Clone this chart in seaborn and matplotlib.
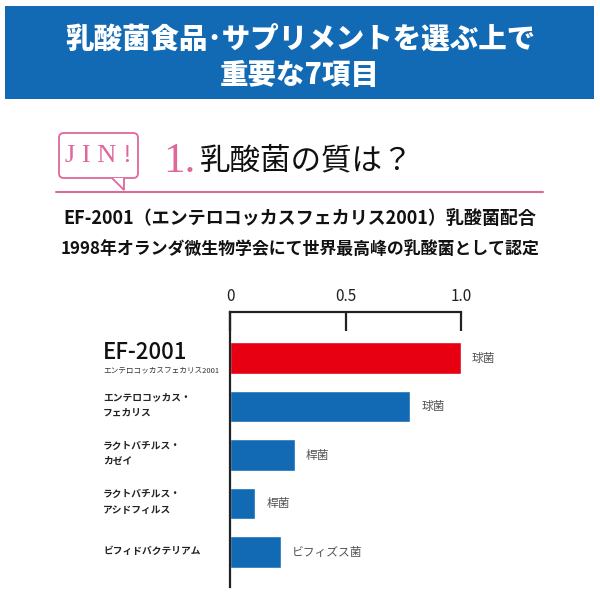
import matplotlib
matplotlib.use("Agg")
import matplotlib.pyplot as plt
import matplotlib.patches as mpatches
from matplotlib.transforms import blended_transform_factory
import seaborn as sns

# データ
names = ["EF-2001", "エンテロコッカス・\nフェカリス", "ラクトバチルス・\nカゼイ",
         "ラクトバチルス・\nアシドフィルス", "ビフィドバクテリアム"]
values = [1.0, 0.78, 0.28, 0.11, 0.22]
types = ["球菌", "球菌", "桿菌", "桿菌", "ビフィズス菌"]
colors = ["#e60012", "#136ab4", "#136ab4", "#136ab4", "#136ab4"]
xticks = [0, 0.5, 1.0]
xtick_labels = ["0", "0.5", "1.0"]

title_lines = ["乳酸菌食品･サプリメントを選ぶ上で", "重要な7項目"]
heading = "乳酸菌の質は？"
sub1 = "EF-2001（エンテロコッカスフェカリス2001）乳酸菌配合"
sub2 = "1998年オランダ微生物学会にて世界最高峰の乳酸菌として認定"
ef_sub = "エンテロコッカスフェカリス2001"

sns.set_style("white")
plt.rcParams["font.family"] = ["Noto Sans CJK JP", "DejaVu Sans"]

W = H = 600
fig = plt.figure(figsize=(6, 6), dpi=100)


def fx(px):
    return px / W


def fy(py):
    return 1 - py / H


# ヘッダー
fig.add_artist(mpatches.Rectangle((fx(5), fy(99)), fx(589), 93 / H,
                                  transform=fig.transFigure, color="#136ab4", lw=0))
fig.text(0.5, fy(39), title_lines[0], color="white", fontsize=20.5, weight="heavy",
         ha="center", va="center")
fig.text(0.5, fy(75), title_lines[1], color="white", fontsize=20.5, weight="heavy",
         ha="center", va="center")

# JIN! 吹き出し
pink = "#e0679c"
fig.add_artist(mpatches.FancyBboxPatch((fx(59), fy(178)), 79 / W, 45 / H,
                                       boxstyle="round,pad=0,rounding_size=0.008",
                                       transform=fig.transFigure, fc="white", ec=pink, lw=1.3))
fig.add_artist(mpatches.Polygon([(fx(112), fy(178)), (fx(124), fy(190)), (fx(124), fy(178))],
                                transform=fig.transFigure, fc="white", ec=pink, lw=1.3,
                                closed=False))
fig.text(fx(98), fy(156), "J I N !", color=pink, fontsize=19, family="Liberation Serif",
         ha="center", va="center")
fig.text(fx(163), fy(162), "1.", color=pink, fontsize=31, family="Liberation Serif",
         ha="left", va="center")
fig.text(fx(200), fy(161), heading, color="#111111", fontsize=22,
         ha="left", va="center")
fig.add_artist(plt.Line2D([fx(56), fx(543)], [fy(192), fy(192)], color=pink, lw=1.5,
                          transform=fig.transFigure))

fig.text(0.5, fy(218), sub1, color="#111111", fontsize=13, weight="bold",
         ha="center", va="center")
fig.text(0.5, fy(249), sub2, color="#111111", fontsize=12.2, weight="bold",
         ha="center", va="center")

# グラフ
ax = fig.add_axes([fx(230), fy(587), fx(231), (587 - 312) / H])
sns.barplot(x=values, y=names, hue=names, palette=colors, orient="h", width=0.65,
            saturation=1, legend=False, ax=ax)
ax.set_xlim(0, 1.0)
ax.set_ylim(4.72, -0.95)
for s in ["right", "bottom"]:
    ax.spines[s].set_visible(False)
for s in ["top", "left"]:
    ax.spines[s].set_color("#222222")
    ax.spines[s].set_linewidth(1.6)
ax.xaxis.tick_top()
ax.set_xticks(xticks)
ax.set_xticklabels(xtick_labels)
ax.tick_params(axis="x", direction="in", length=14, width=1.6, pad=5,
               labelsize=11, colors="#222222")
ax.set_yticks([])
ax.set_xlabel("")
ax.set_ylabel("")
for p in ax.patches:
    p.set_clip_on(False)

trans = blended_transform_factory(fig.transFigure, ax.transData)
for i, (name, v, t) in enumerate(zip(names, values, types)):
    if i == 0:
        ax.annotate(name, xy=(fx(103), i), xycoords=trans, xytext=(0, 4),
                    textcoords="offset points", fontsize=16, weight="medium",
                    ha="left", va="center", color="#111111")
        ax.annotate(ef_sub, xy=(fx(103), i), xycoords=trans, xytext=(0, -9),
                    textcoords="offset points", fontsize=5.5, ha="left", va="center",
                    color="#333333")
    else:
        ax.annotate(name, xy=(fx(103), i), xycoords=trans, xytext=(0, 1),
                    textcoords="offset points", fontsize=7, weight="bold", ha="left",
                    va="center", color="#222222", linespacing=1.7)
    ax.annotate(t, xy=(v, i), xytext=(8, 0), textcoords="offset points",
                fontsize=8.5, ha="left", va="center", color="#555555")

fig.savefig("out.png", dpi=100)
